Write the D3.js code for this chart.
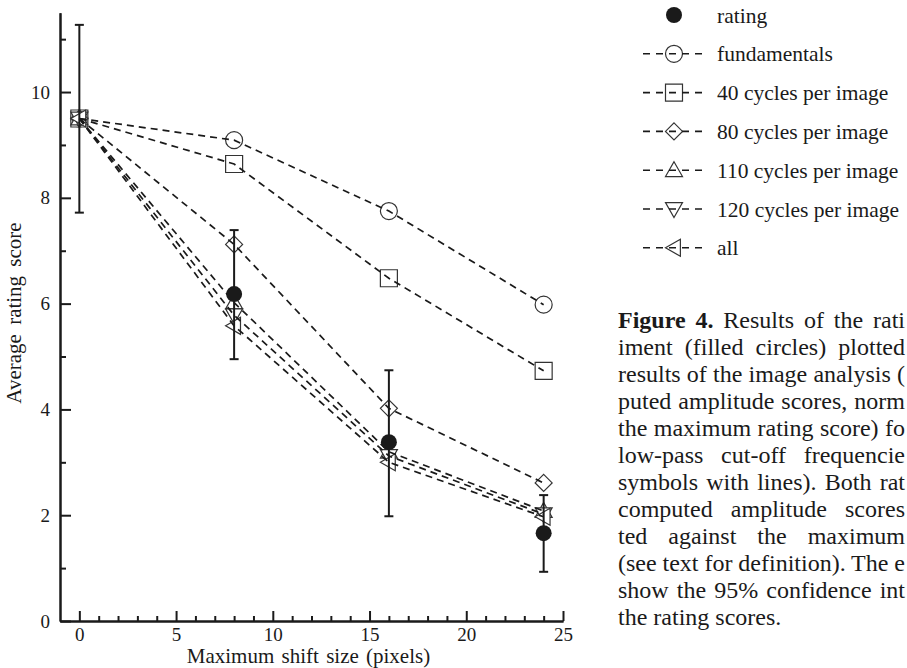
<!DOCTYPE html>
<html>
<head>
<meta charset="utf-8">
<script src="https://cdn.jsdelivr.net/npm/d3@7"></script>
<style>
  body { margin: 0; background: #fff; }
  svg { display: block; }
</style>
</head>
<body>
<div id="chart"></div>
<script>
// Figure 4 : notes moyennes vs. taille de décalage max
const shifts = [0, 8, 16, 24]
const rating = [9.5, 6.18, 3.38, 1.66]
const ratingLow = [7.72, 4.95, 1.98, 0.93]
const ratingHigh = [11.27, 7.39, 4.74, 2.38]
const fundamentals = [9.5, 9.09, 7.75, 5.98]
const cycles40 = [9.5, 8.64, 6.48, 4.73]
const cycles80 = [9.5, 7.12, 4.02, 2.61]
const cycles110 = [9.5, 6.02, 3.2, 2.08]
const cycles120 = [9.5, 5.78, 3.12, 2.02]
const allFreq = [9.5, 5.58, 3.0, 1.97]

const seriesNames = ["fundamentals", "40 cycles per image", "80 cycles per image",
  "110 cycles per image", "120 cycles per image", "all"]
const seriesValues = [fundamentals, cycles40, cycles80, cycles110, cycles120, allFreq]
const seriesShapes = ["circle", "square", "diamond", "up", "down", "left"]

const xMajor = [0, 5, 10, 15, 20, 25]
const xMinor = d3.range(0, 26).filter((v) => v % 5 !== 0)
const yMajor = [0, 2, 4, 6, 8, 10]
const yMinor = [1, 3, 5, 7, 9, 11]

// Légende de figure : seule la partie visible dans l'original (coupé au bord droit)
const captionLines = [
  ["Figure 4.", " Results of the rati"],
  ["", "iment (filled circles) plotted"],
  ["", "results of the image analysis ("],
  ["", "puted amplitude scores, norm"],
  ["", "the maximum rating score) fo"],
  ["", "low-pass cut-off frequencie"],
  ["", "symbols with lines). Both rat"],
  ["", "computed amplitude scores"],
  ["", "ted against the maximum"],
  ["", "(see text for definition). The e"],
  ["", "show the 95% confidence int"],
  ["", "the rating scores."],
]

const W = 907, H = 668
const ink = "#1a1a1a"
const serif = "'Liberation Serif', 'Times New Roman', serif"

const svg = d3.select("#chart").append("svg")
  .attr("width", W).attr("height", H)
  .attr("viewBox", `0 0 ${W} ${H}`)
  .style("background", "#fff")
  .attr("font-family", serif)

const x = d3.scaleLinear().domain([-1, 25]).range([60, 563])
const y = d3.scaleLinear().domain([0, 11.5]).range([621, 12.7])

// Formes des symboles ouverts (rayon r)
function shapePath(kind, r) {
  const p = d3.path()
  if (kind === "circle") { p.arc(0, 0, r, 0, 2 * Math.PI) }
  else if (kind === "square") { p.rect(-r, -r, 2 * r, 2 * r) }
  else if (kind === "diamond") {
    p.moveTo(0, -r); p.lineTo(r, 0); p.lineTo(0, r); p.lineTo(-r, 0); p.closePath()
  } else if (kind === "up") {
    p.moveTo(0, -r); p.lineTo(r, r * 0.75); p.lineTo(-r, r * 0.75); p.closePath()
  } else if (kind === "down") {
    p.moveTo(0, r); p.lineTo(r, -r * 0.75); p.lineTo(-r, -r * 0.75); p.closePath()
  } else if (kind === "left") {
    p.moveTo(-r, 0); p.lineTo(r * 0.75, -r); p.lineTo(r * 0.75, r); p.closePath()
  }
  return p.toString()
}

// Axes
function styleAxis(sel) {
  sel.select(".domain").attr("stroke", ink).attr("stroke-width", 2)
  sel.selectAll(".tick line").attr("stroke", ink).attr("stroke-width", 2)
  sel.selectAll(".tick text").attr("fill", ink).attr("font-size", 19).attr("font-family", serif)
}

svg.append("g").attr("transform", `translate(0,${y(0)})`)
  .call(d3.axisBottom(x).tickValues(xMinor).tickSize(-5).tickSizeOuter(0).tickFormat(""))
  .call(styleAxis)
svg.append("g").attr("transform", `translate(0,${y(0)})`)
  .call(d3.axisBottom(x).tickValues(xMajor).tickSize(-10).tickSizeOuter(0).tickPadding(7).tickFormat(d3.format("d")))
  .call(styleAxis)

svg.append("g").attr("transform", `translate(${x(-1)},0)`)
  .call(d3.axisLeft(y).tickValues(yMinor).tickSize(-6).tickSizeOuter(0).tickFormat(""))
  .call(styleAxis)
svg.append("g").attr("transform", `translate(${x(-1)},0)`)
  .call(d3.axisLeft(y).tickValues(yMajor).tickSize(-11).tickSizeOuter(0).tickPadding(10).tickFormat(d3.format("d")))
  .call(styleAxis)

svg.append("text")
  .attr("x", 308.5).attr("y", 663)
  .attr("text-anchor", "middle").attr("font-size", 21).attr("word-spacing", 2)
  .attr("fill", ink)
  .text("Maximum shift size (pixels)")

svg.append("text")
  .attr("transform", "translate(21,313) rotate(-90)")
  .attr("text-anchor", "middle").attr("font-size", 21).attr("word-spacing", 4)
  .attr("fill", ink)
  .text("Average rating score")

const plot = svg.append("g")
const R = 8.5, RF = 8

// Note à décalage nul : sous les symboles ouverts (masquée comme sur l'original)
plot.selectAll("circle.rating-under")
  .data(shifts.map((s, i) => ({ s, v: rating[i], i })).filter((d) => d.i === 0))
  .join("circle")
  .attr("cx", (d) => x(d.s)).attr("cy", (d) => y(d.v)).attr("r", RF)
  .attr("fill", ink)

// Symboles ouverts
seriesValues.forEach((vals, k) => {
  plot.append("g").selectAll("path")
    .data(vals.map((v, i) => ({ s: shifts[i], v })))
    .join("path")
    .attr("transform", (d) => `translate(${x(d.s)},${y(d.v)})`)
    .attr("d", shapePath(seriesShapes[k], R))
    .attr("fill", "#fff")
    .attr("stroke", "#333").attr("stroke-width", 1.2)
})

// Lignes pointillées
const line = d3.line().x((d) => x(d.s)).y((d) => y(d.v))
seriesValues.forEach((vals) => {
  plot.append("path")
    .datum(vals.map((v, i) => ({ s: shifts[i], v })))
    .attr("d", line)
    .attr("fill", "none")
    .attr("stroke", ink).attr("stroke-width", 1.7)
    .attr("stroke-dasharray", "7,5")
})

// Barres d'erreur (IC 95 %)
const bars = plot.append("g").selectAll("g")
  .data(shifts.map((s, i) => ({ s, lo: ratingLow[i], hi: ratingHigh[i] })))
  .join("g")
  .attr("stroke", ink).attr("stroke-width", 2)
bars.append("line")
  .attr("x1", (d) => x(d.s)).attr("x2", (d) => x(d.s))
  .attr("y1", (d) => y(d.lo)).attr("y2", (d) => y(d.hi))
bars.append("line")
  .attr("x1", (d) => x(d.s) - 4.5).attr("x2", (d) => x(d.s) + 4.5)
  .attr("y1", (d) => y(d.lo)).attr("y2", (d) => y(d.lo))
bars.append("line")
  .attr("x1", (d) => x(d.s) - 4.5).attr("x2", (d) => x(d.s) + 4.5)
  .attr("y1", (d) => y(d.hi)).attr("y2", (d) => y(d.hi))

plot.selectAll("circle.rating")
  .data(shifts.map((s, i) => ({ s, v: rating[i], i })).filter((d) => d.i > 0))
  .join("circle")
  .attr("class", "rating")
  .attr("cx", (d) => x(d.s)).attr("cy", (d) => y(d.v)).attr("r", RF)
  .attr("fill", ink)

// Légende
const legendX = 674, legendY0 = 15, legendStep = 38.8
const legend = svg.append("g")
legend.append("circle").attr("cx", legendX).attr("cy", legendY0).attr("r", RF).attr("fill", ink)
legend.append("text").attr("x", 717).attr("y", legendY0 + 7.5)
  .attr("font-size", 21.5).attr("fill", ink).text("rating")

seriesNames.forEach((name, k) => {
  const cy = legendY0 + legendStep * (k + 1)
  legend.append("path")
    .attr("transform", `translate(${legendX},${cy})`)
    .attr("d", shapePath(seriesShapes[k], R))
    .attr("fill", "#fff").attr("stroke", "#333").attr("stroke-width", 1.2)
  legend.append("line")
    .attr("x1", 643).attr("x2", 705).attr("y1", cy).attr("y2", cy)
    .attr("stroke", ink).attr("stroke-width", 1.6).attr("stroke-dasharray", "7,6")
  legend.append("text").attr("x", 717).attr("y", cy + 7.5)
    .attr("font-size", 21.5).attr("fill", ink).text(name)
})

// Texte justifié jusqu'au bord droit (sauf la dernière ligne)
const capX = 618, capY0 = 328, capStep = 27, capEnd = 905
captionLines.forEach(([bold, rest], i) => {
  const t = svg.append("text")
    .attr("x", capX).attr("y", capY0 + capStep * i)
    .attr("font-size", 24).attr("fill", ink)
  if (bold) t.append("tspan").attr("font-weight", "bold").text(bold)
  t.append("tspan").text(rest)
  if (i < captionLines.length - 1) {
    const nat = t.node().getComputedTextLength()
    const spaces = (bold + rest).split(" ").length - 1
    t.attr("word-spacing", (capEnd - capX - nat) / spaces)
  }
})
</script>
</body>
</html>
